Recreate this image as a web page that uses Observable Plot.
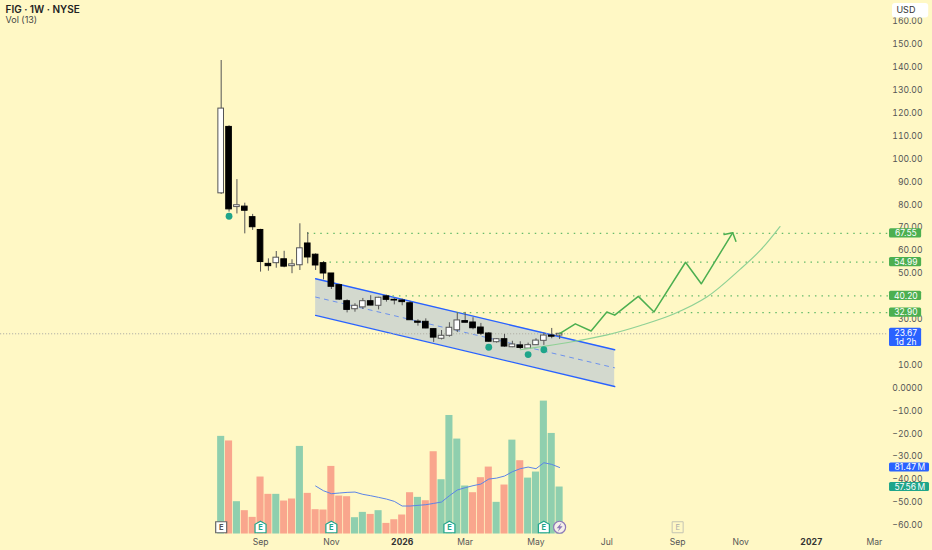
<!DOCTYPE html>
<html><head><meta charset="utf-8">
<script src="https://cdn.jsdelivr.net/npm/d3@7"></script>
<script src="https://cdn.jsdelivr.net/npm/@observablehq/plot@0.6"></script>
<style>html,body{margin:0;padding:0;background:#fff8c5;overflow:hidden}svg{display:block}</style>
</head><body><div id="chart"></div>
<script>
const opens =[85,114,79,79.2,74.6,69,54.2,54.5,56.2,53.2,53.6,63.1,58.2,54.5,50,44.9,37.9,34.4,35.2,37.9,35.9,40,38.5,38.2,37,29,28.9,25.7,21.5,22.8,25.2,29.2,28.6,26.4,23.8,20,21.3,17.8,18.6,17.2,18.7,20.6,22.9,22.9];
const closes=[122,78,79.8,77.4,70.2,55,53.2,56.9,53,54,61,57,53.5,50,44.2,38.6,34.1,35.9,37.9,36,39.4,38.5,38.2,37.5,29.6,28.5,26,22,22.8,26.3,29.5,28.5,26.1,23.7,20.2,21.3,18.1,19,17.5,18.7,20.7,22.9,22.4,23.67];
const highs =[143,114.5,91,80.7,75.8,69.3,56.4,59.6,59.7,56,71.7,67.9,58.6,55.2,50,45.2,38.5,36.8,39.1,40.3,39.6,40.5,39,38.8,37.8,29.8,30.2,25.9,25.1,28.5,32.8,33,30.7,28.2,24.2,21.6,23.4,20.4,20.2,19.6,21.5,23.9,26,23.9];
const lows  =[84.5,76.8,76,67.3,68.8,50.6,51,52.3,52.5,49.9,51.3,54.2,51.3,47.2,43,38.2,32.8,33.1,34.3,35.9,34.1,37.5,36.3,35.9,29.5,27,25.9,19.9,21,22.2,24.2,28.4,25.4,22.9,20,19.6,17.8,17.6,16.8,16.9,18.6,18.6,21.5,21.2];
const volumes=[119.6,114,39.6,28.6,20.4,69.8,48.6,48.6,40.4,42.9,107.3,49.8,29.8,29.4,82.8,46.5,45.7,20,26.5,24,28.6,13,17.5,23.3,50.6,44.9,40.8,100.8,66.5,145.2,116.3,58.8,50.6,69,82,38.8,60,115,89.8,68.5,75.9,162.8,123.2,57.56];
const volumeUp=[1,0,1,0,0,0,0,1,0,0,1,0,0,0,0,0,0,1,1,0,1,0,0,0,0,1,0,0,1,1,1,1,0,0,0,1,0,1,0,1,1,1,1,1];
const volumeMA=[58.8,53,49.4,50.2,51,51.4,48.6,46.9,44.9,42.8,40,34.3,34.3,35.1,35.9,37.5,39.2,46.9,53.9,56.7,59.2,61.2,67.3,68.5,71,76.3,80,82,80,87.3,85.3,81.47];
const volumeMAStart=12;
const channelIdx=[12,50];
const channelTop=[47.7,16.7], channelMid=[39.7,8.8], channelBottom=[31.7,0.65];
const levelValues=[67.55,54.99,40.20,32.90];
const levelStart=[11,13,21,30];
const lastPrice=23.67;
const signalIdx=[1,34,39,41], signalPrice=[75,17.8,14.6,16.7];
const pathIdx=[43,45,47,49,50,53,55,59,61,65];
const pathPrice=[23.7,28,24.9,33.2,31.8,40,33.2,54.9,45.5,67.8];
const headIdx=[63.9,65,65.4], headPrice=[67,67.8,64.1];
const curveIdx=[38,40.57,44.76,49.05,53.3,57.5,61.75,66,68.55,71];
const curvePrice=[16.7,18,20.3,23.2,27.3,32.3,39.8,52,60.3,70.5];
const monthLabels=["Sep","Nov","Mar","May","Jul","Sep","Nov","Mar"];
const monthIdx=[5,14,31,40,49,58,66,83];
const yearLabels=["2026","2027"];
const yearIdx=[23,75];
const earningsIdx=[5,14,29,41];
const pastEarningsIdx=[0], futureEarningsIdx=[58], dividendIdx=[43];
const priceTicks=[-60,-50,-40,-30,-20,-10,0,10,30,50,60,70,80,90,100,110,120,130,140,150,160];

const bg="#fff8c5", up="#8fcfae", down="#f9a68d", blue="#2962ff", green="#4caf50", teal="#1fa58a";
const week=i=>new Date(Date.UTC(2025,6,28)+i*7*864e5);
const dayMs=864e5;
const pricePerPx=1/2.29, mPerPx=1.225;
const volBase=-63.76;
const volY=m=>volBase+m/mPerPx*pricePerPx;
const markerY=-60.8;
const candles=opens.map((o,i)=>({t:week(i),o,c:closes[i],h:highs[i],l:lows[i],v:volumes[i],up:volumeUp[i],white:closes[i]>o}));
const seg=(xs,ys)=>xs.map((x,i)=>({t:week(x),y:ys[i]}));
const ma=volumeMA.map((m,i)=>({t:week(i+volumeMAStart),y:volY(m)}));
const channelBand=channelIdx.map((x,i)=>({t:week(x),y1:channelTop[i],y2:channelBottom[i]}));
const levels=levelValues.map((v,i)=>({v,s:levelStart[i]}));
const axisEndIdx=84.79;
const house={draw(c){c.moveTo(0,-6);c.lineTo(5.5,-3);c.lineTo(5.5,5.5);c.lineTo(-5.5,5.5);c.lineTo(-5.5,-3);c.closePath();}};
const square={draw(c){c.moveTo(-5.5,-5.5);c.lineTo(5.5,-5.5);c.lineTo(5.5,5.5);c.lineTo(-5.5,5.5);c.closePath();}};
const bolt={draw(c){c.moveTo(2,-4.8);c.lineTo(-3,1);c.lineTo(-0.3,1);c.lineTo(-2,4.8);c.lineTo(3,-1);c.lineTo(0.3,-1);c.closePath();}};
const tagBox=(rows,x1,x2,fill)=>Plot.rect(rows,{x1:()=>week(x1),x2:()=>week(x2),y1:d=>d.y-2,y2:d=>d.y+2,fill,rx:1.5});
const tagText=(rows,x)=>Plot.text(rows,{x:()=>week(x),y:"y",text:"s",fill:"#fff",fontSize:8.5,letterSpacing:0.2});

const chart=Plot.plot({
  width:932,height:550,marginLeft:0,marginRight:44,marginTop:0,marginBottom:16,
  style:{background:bg,fontFamily:"Inter, 'Liberation Sans', sans-serif",color:"#555",fontSize:"9px",overflow:"visible"},
  x:{type:"utc",domain:[week(-28.04),week(axisEndIdx)],range:[0,888],axis:null},
  y:{type:"linear",domain:[-63.97,169.2],range:[534,0],axis:null},
  marks:[
    Plot.axisY({anchor:"right",label:null,ticks:priceTicks,tickSize:0,tickPadding:34,textAnchor:"end",fontSize:8.6,fill:"#555",letterSpacing:0.15,
      tickFormat:d=>d===0?"0.0000":(d<0?"\u2212":"")+Math.abs(d).toFixed(2)}),
    Plot.axisX(monthIdx.map(week),{anchor:"bottom",label:null,tickSize:0,tickPadding:4.5,fontSize:8.6,fill:"#555",tickFormat:(d,i)=>monthLabels[i]}),
    Plot.axisX(yearIdx.map(week),{anchor:"bottom",label:null,tickSize:0,tickPadding:4.5,fontSize:8.6,fontWeight:"bold",fill:"#333",tickFormat:(d,i)=>yearLabels[i]}),
    Plot.areaY(channelBand,{x:"t",y1:"y1",y2:"y2",fill:"#d3d9ce"}),
    Plot.line(seg(channelIdx,channelTop),{x:"t",y:"y",stroke:blue,strokeWidth:1.4}),
    Plot.line(seg(channelIdx,channelBottom),{x:"t",y:"y",stroke:blue,strokeWidth:1.4}),
    Plot.line(seg(channelIdx,channelMid),{x:"t",y:"y",stroke:blue,strokeWidth:1,strokeDasharray:"4 5",strokeOpacity:.6}),
    Plot.ruleY(levels,{x1:d=>week(d.s),x2:()=>week(axisEndIdx),y:"v",stroke:"#66bb6a",strokeWidth:1.2,strokeDasharray:"1.5 5"}),
    Plot.ruleY([lastPrice],{x1:()=>week(-28.04),x2:()=>week(axisEndIdx),stroke:"#b0b0a6",strokeWidth:1,strokeDasharray:"1.2 1.8"}),
    Plot.rect(candles,{x1:d=>+d.t-3.15*dayMs,x2:d=>+d.t+3.15*dayMs,y1:()=>volBase,y2:d=>volY(d.v),fill:d=>d.up?up:down}),
    Plot.line(ma,{x:"t",y:"y",stroke:"#5b84e8",strokeWidth:1}),
    Plot.ruleX(candles,{x:"t",y1:"l",y2:"h",stroke:"#555",strokeWidth:1}),
    Plot.rect(candles,{x1:d=>+d.t-2.5*dayMs,x2:d=>+d.t+2.5*dayMs,y1:"o",y2:"c",fill:d=>d.white?"#fff":"#000",stroke:d=>d.white?"#555":"#000",strokeWidth:1}),
    Plot.line(seg(curveIdx,curvePrice),{x:"t",y:"y",stroke:"#8fd195",strokeWidth:1.2,curve:"catmull-rom"}),
    Plot.line(seg(pathIdx,pathPrice),{x:"t",y:"y",stroke:green,strokeWidth:1.5}),
    Plot.line(seg(headIdx,headPrice),{x:"t",y:"y",stroke:green,strokeWidth:1.5}),
    Plot.dot(signalIdx.map((x,i)=>({t:week(x),y:signalPrice[i]})),{x:"t",y:"y",r:3.4,fill:teal}),
    Plot.dot(earningsIdx.map(week),{x:d=>d,y:()=>markerY,symbol:house,r:5,fill:"#fff",stroke:teal,strokeWidth:1.2}),
    Plot.text(earningsIdx.map(week),{x:d=>d,y:()=>markerY,text:()=>"E",fill:teal,fontSize:7.5,fontWeight:"bold"}),
    Plot.dot(pastEarningsIdx.map(week),{x:d=>d,y:()=>markerY,symbol:square,r:5,fill:"#fff",stroke:"#666",strokeWidth:1.2}),
    Plot.text(pastEarningsIdx.map(week),{x:d=>d,y:()=>markerY,text:()=>"E",fill:"#555",fontSize:7.5,fontWeight:"bold"}),
    Plot.dot(futureEarningsIdx.map(week),{x:d=>d,y:()=>markerY,symbol:square,r:5,fill:bg,stroke:"#c4c4b4",strokeWidth:1}),
    Plot.text(futureEarningsIdx.map(week),{x:d=>d,y:()=>markerY,text:()=>"E",fill:"#aaa",fontSize:7.5}),
    Plot.dot(dividendIdx.map(week),{x:d=>d,y:()=>markerY,r:6,fill:"#f5f0ea",stroke:"#8d78b8",strokeWidth:1.2}),
    Plot.dot(dividendIdx.map(week),{x:d=>d,y:()=>markerY,symbol:bolt,r:4,fill:"#8d78b8"}),
    tagBox(levelValues.map(v=>({y:v,s:v.toFixed(2)})),84.92,89,green),
    tagText(levelValues.map(v=>({y:v,s:v.toFixed(2)})),87),
    Plot.rect([lastPrice],{x1:()=>week(84.92),x2:()=>week(89),y1:()=>lastPrice+2.4,y2:()=>lastPrice-5.5,fill:blue,rx:1.5}),
    Plot.text([`${lastPrice.toFixed(2)}\n1d 2h`],{x:()=>week(87),y:()=>lastPrice-1.55,text:d=>d,fill:"#fff",fontSize:8.5,lineHeight:1.05,letterSpacing:0.2}),
    tagBox([{y:volY(81.47)}],84.92,90,blue),
    tagText([{y:volY(81.47),s:"81.47\u2009M"}],87.5),
    tagBox([{y:volY(57.56)}],84.92,90,teal),
    tagText([{y:volY(57.56),s:"57.56\u2009M"}],87.5),
    Plot.rect([0],{x1:()=>week(85.3),x2:()=>week(89.9),y1:()=>161.6,y2:()=>167.9,fill:"#fff",rx:3}),
    Plot.text(["USD"],{x:()=>week(87),y:()=>164.8,text:d=>d,fill:"#333",fontSize:9,letterSpacing:0.3}),
    Plot.text(["FIG \u00b7 1W \u00b7 NYSE"],{frameAnchor:"top-left",dx:5,dy:5.5,text:d=>d,fill:"#222",fontSize:10,fontWeight:600,letterSpacing:0.15}),
    Plot.text(["Vol (13)"],{frameAnchor:"top-left",dx:5,dy:16,text:d=>d,fill:"#444",fontSize:9,letterSpacing:0.1})
  ]
});
document.getElementById("chart").append(chart);
</script></body></html>
